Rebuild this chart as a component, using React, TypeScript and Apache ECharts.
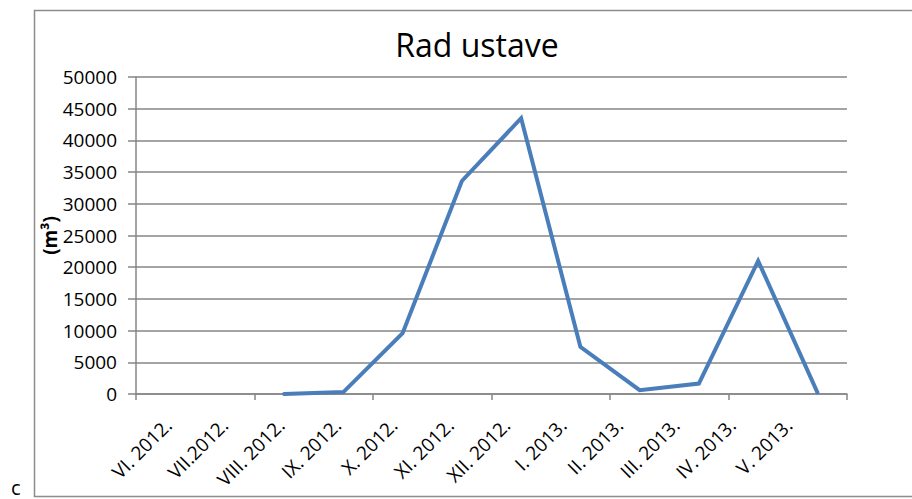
import React, { useEffect, useRef } from "react";
import * as echarts from "echarts";

const categories = [
  "VI. 2012.",
  "VII.2012.",
  "VIII. 2012.",
  "IX. 2012.",
  "X. 2012.",
  "XI. 2012.",
  "XII. 2012.",
  "I. 2013.",
  "II. 2013.",
  "III. 2013.",
  "IV. 2013.",
  "V. 2013.",
];
const values: (number | null)[] = [null, null, 0, 300, 9600, 33600, 43500, 7450, 600, 1650, 21000, 250];
const yMin = 0;
const yMax = 50000;
const yStep = 5000;
const titleText = "Rad ustave";
const yName = "(m³)";
const cornerLabel = "c";

const FONT = "'Open Sans', 'Noto Sans', sans-serif";

export default function App() {
  const ref = useRef<HTMLDivElement>(null);
  useEffect(() => {
    document.body.style.margin = "0";
    if (!ref.current) return;
    const chart = echarts.init(ref.current, undefined, { renderer: "svg" });
    chart.setOption({
      animation: false,
      backgroundColor: "#ffffff",
      grid: [
        { left: 136, right: 65, top: 77, bottom: 105 },
        { left: 140, width: 677, top: 77, bottom: 105 },
      ],
      xAxis: [
        {
          type: "category",
          gridIndex: 0,
          data: categories,
          boundaryGap: true,
          axisLine: { lineStyle: { color: "#868686", width: 1.5 } },
          axisTick: { show: true, length: 6, lineStyle: { color: "#868686", width: 1.5 } },
          axisLabel: { show: false },
        },
        {
          type: "category",
          gridIndex: 1,
          data: categories,
          boundaryGap: true,
          axisLine: { show: false },
          axisTick: { show: false },
          splitLine: { show: false },
          axisLabel: {
            rotate: 45,
            interval: 0,
            margin: 28,
            color: "#000",
            fontFamily: FONT,
            fontSize: 19,
          },
        },
      ],
      yAxis: [
        {
          type: "value",
          gridIndex: 0,
          min: yMin,
          max: yMax,
          interval: yStep,
          name: yName,
          nameLocation: "middle",
          nameRotate: 90,
          nameGap: 77,
          nameMoveOverlap: false,
          nameTextStyle: { color: "#000", fontFamily: FONT, fontSize: 19, fontWeight: "bold" },
          axisLine: { show: true, lineStyle: { color: "#868686", width: 1.5 } },
          axisTick: { show: true, inside: false, length: 8, lineStyle: { color: "#868686", width: 1.5 } },
          splitLine: { show: true, lineStyle: { color: "#868686", width: 1.5 } },
          axisLabel: {
            margin: 19,
            color: "#000",
            fontFamily: FONT,
            fontSize: 19,
            formatter: (v: number) => String(v),
          },
        },
        {
          type: "value",
          gridIndex: 1,
          min: yMin,
          max: yMax,
          interval: yStep,
          show: false,
        },
      ],
      series: [
        {
          type: "line",
          xAxisIndex: 0,
          yAxisIndex: 0,
          data: values,
          showSymbol: false,
          symbol: "none",
          lineStyle: { color: "#4A7EBB", width: 4, cap: "round", join: "miter" },
          itemStyle: { color: "#4A7EBB" },
          connectNulls: false,
        },
      ],
      graphic: [
        {
          type: "rect",
          shape: { x: 34.5, y: 10.5, width: 900, height: 486 },
          style: { fill: "none", stroke: "#8c8c8c", lineWidth: 1.5 },
          silent: true,
        },
        {
          type: "text",
          x: 477,
          y: 28,
          style: {
            text: titleText,
            fontFamily: FONT,
            fontSize: 32,
            fill: "#000",
            textAlign: "center",
            textVerticalAlign: "top",
          },
        },
        {
          type: "text",
          x: 11,
          y: 477,
          style: {
            text: cornerLabel,
            fontFamily: FONT,
            fontSize: 20,
            lineHeight: 20,
            fill: "#000",
            textAlign: "left",
            textVerticalAlign: "top",
          },
        },
      ],
    });
    return () => chart.dispose();
  }, []);
  return <div ref={ref} style={{ width: 912, height: 499 }} />;
}
